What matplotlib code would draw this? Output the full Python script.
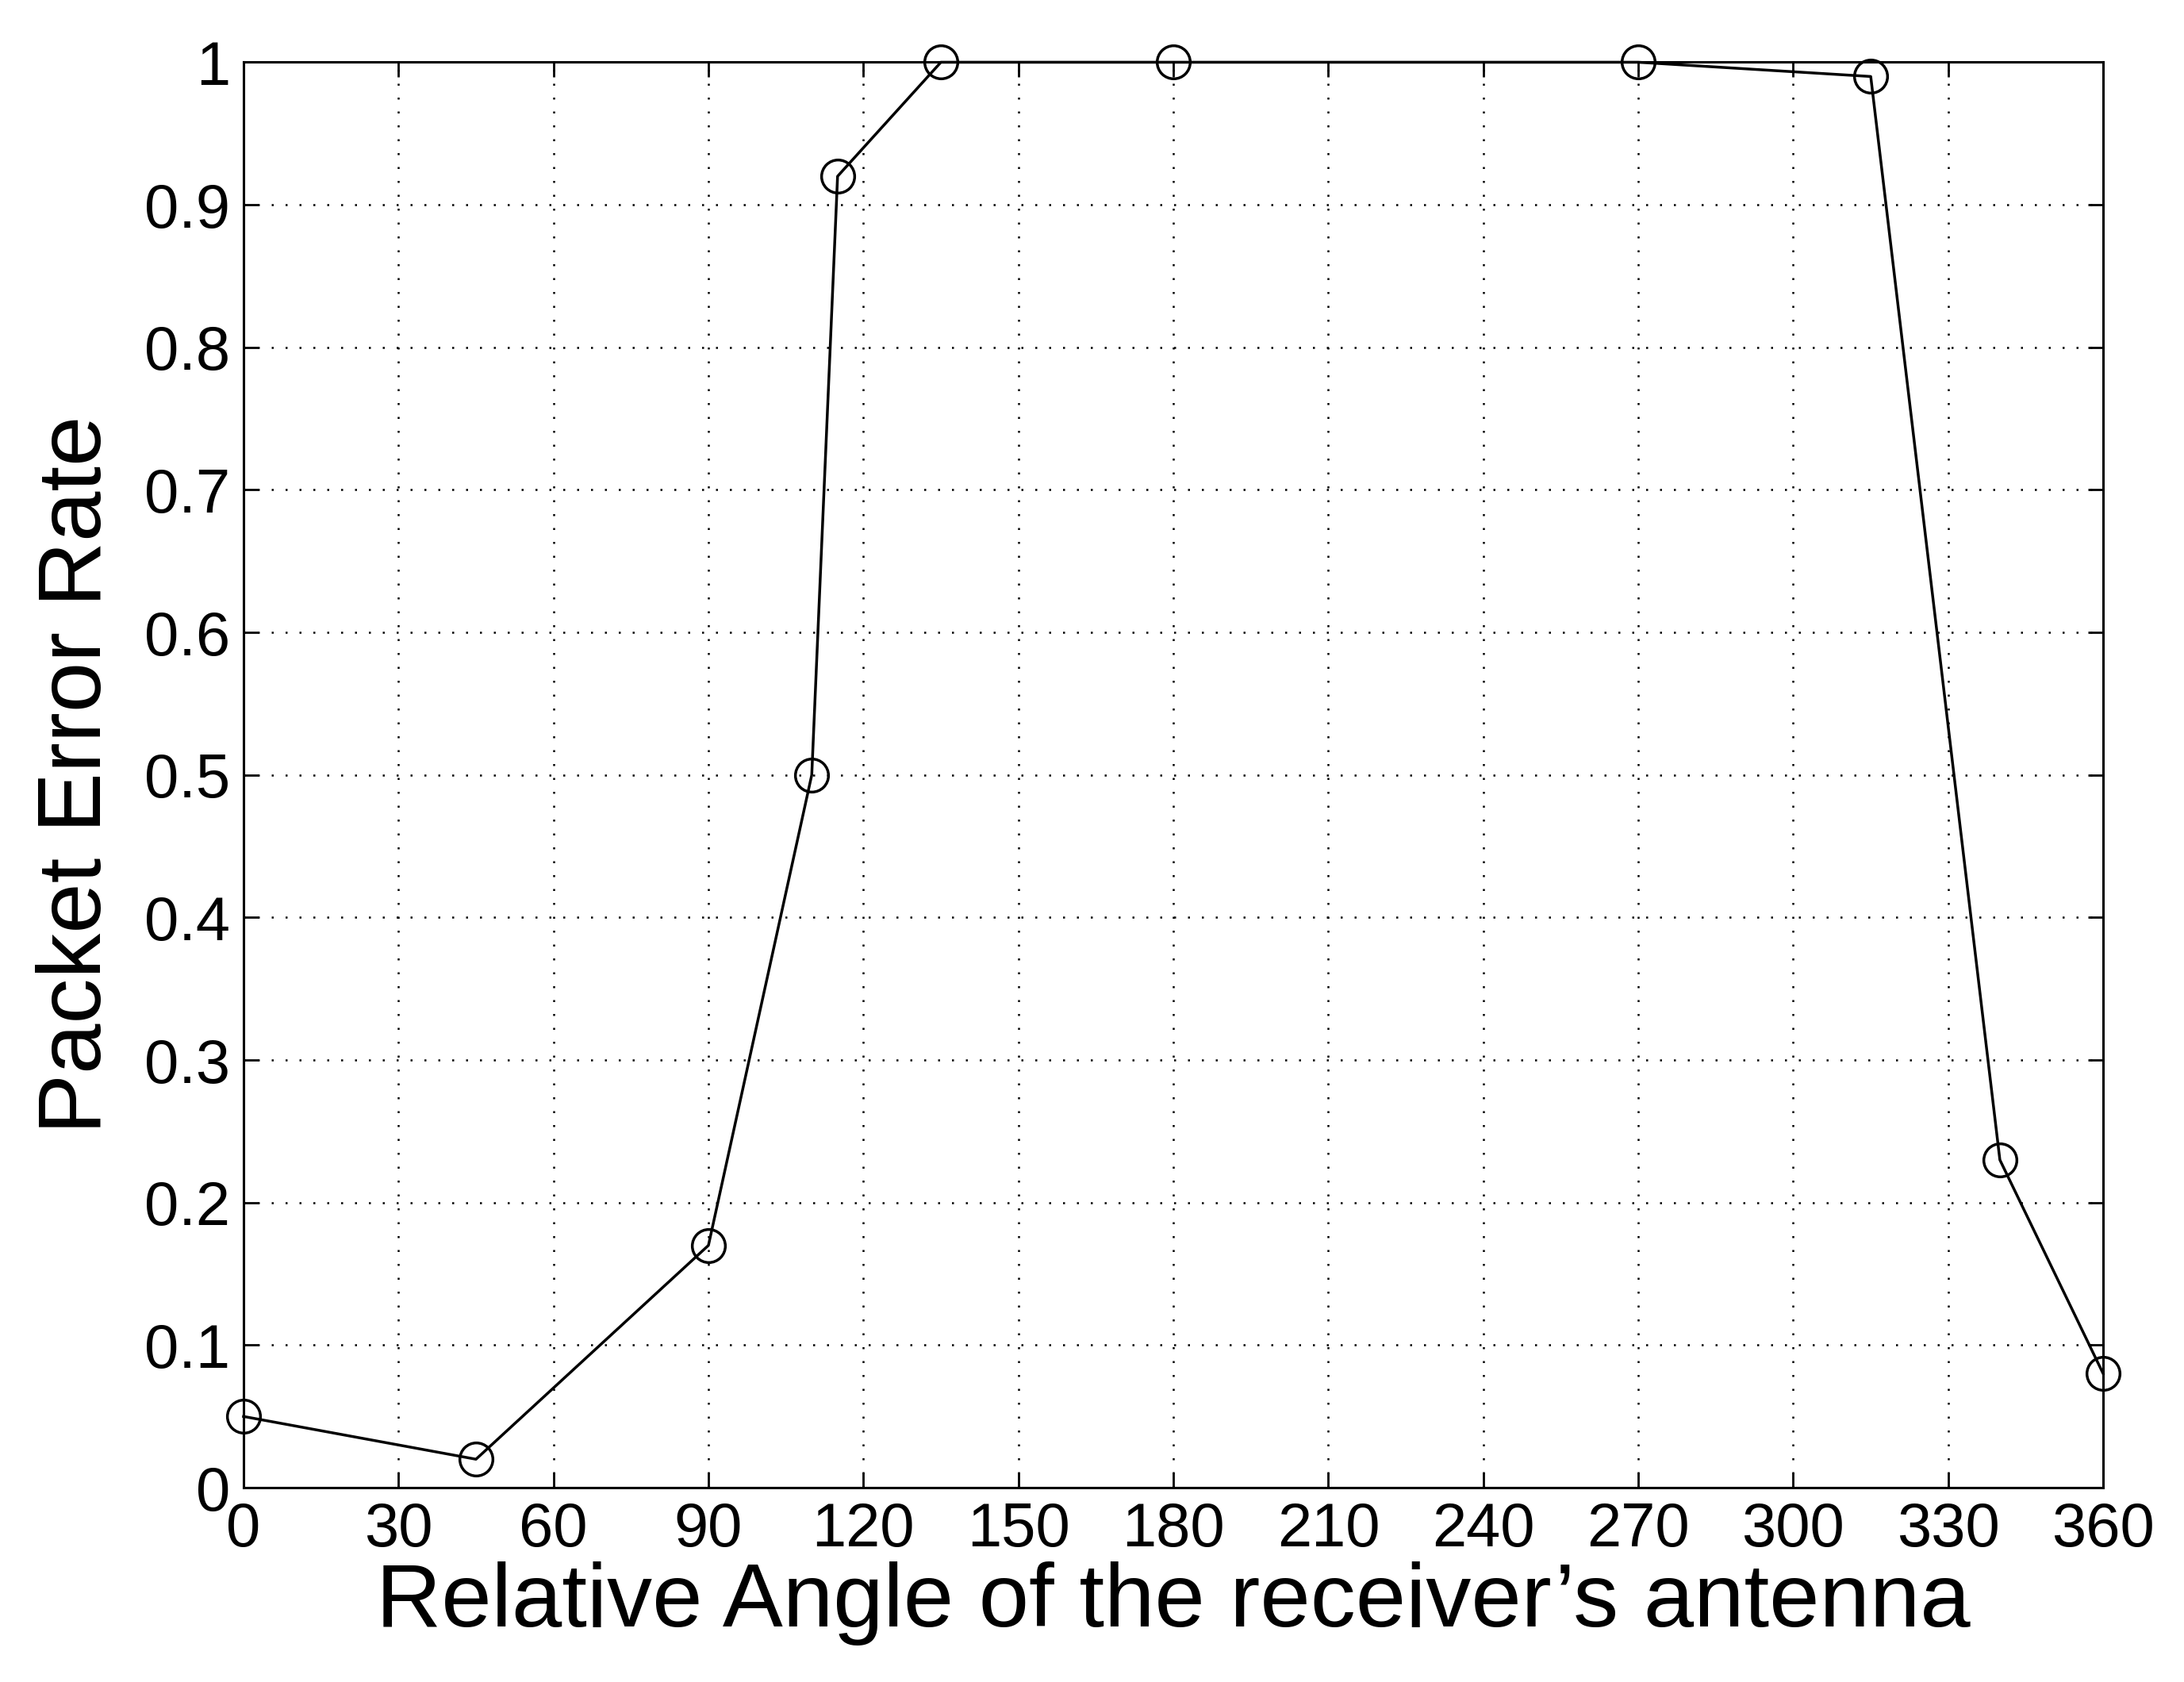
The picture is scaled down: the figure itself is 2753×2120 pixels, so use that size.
import matplotlib
matplotlib.use("Agg")
import matplotlib.pyplot as plt

angles = [0, 45, 90, 110, 115, 135, 180, 270, 315, 340, 360]
per = [0.05, 0.02, 0.17, 0.50, 0.92, 1.00, 1.00, 1.00, 0.99, 0.23, 0.08]
xticks = list(range(0, 361, 30))
yticks = [i / 10 for i in range(11)]
ytick_labels = ["0"] + [f"{v:.1f}" for v in yticks[1:-1]] + ["1"]

plt.rcParams["font.family"] = ["Liberation Sans", "DejaVu Sans"]

fig = plt.figure(figsize=(27.53, 21.20), dpi=100)
ax = fig.add_axes([0.1115, 0.1155, 0.8515, 0.8475])
ax.plot(angles, per, color="black", lw=2.5, marker="o", ms=30,
        mfc="none", mec="black", mew=2.5, clip_on=False)
ax.set_xlim(0, 360)
ax.set_ylim(0, 1)
ax.set_xticks(xticks)
ax.set_yticks(yticks)
ax.set_yticklabels(ytick_labels)
ax.tick_params(direction="in", length=14, width=2, labelsize=56,
               top=True, right=True, pad=12)
ax.grid(True, color="black", ls=(0, (1, 6)), lw=1.8)
for s in ax.spines.values():
    s.set_linewidth(2.2)
ax.set_xlabel("Relative Angle of the receiver\u2019s antenna", fontsize=82, labelpad=2)
ax.set_ylabel("Packet Error Rate", fontsize=82, labelpad=22)
fig.savefig("out.png", dpi=100)
